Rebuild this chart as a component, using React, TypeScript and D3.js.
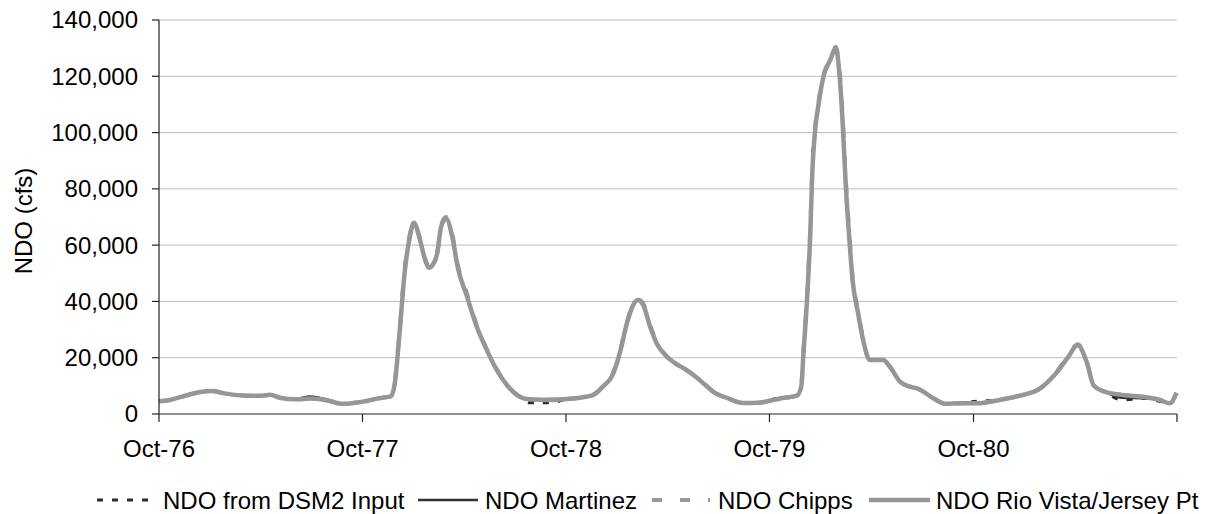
import React from 'react';
import * as d3 from 'd3';

// Dates of the sampled points (shared by all series)
const dates = [
  "1976-10-01","1976-10-21","1976-11-17","1976-12-14","1977-01-04","1977-01-22","1977-02-14","1977-03-13",
  "1977-04-04","1977-04-18","1977-05-06","1977-06-02","1977-06-29","1977-07-26","1977-08-27","1977-09-18",
  "1977-10-02","1977-10-24","1977-11-10","1977-11-21","1977-11-28","1977-12-07","1977-12-16","1977-12-25",
  "1978-01-01","1978-01-12","1978-01-21","1978-01-28","1978-02-04","1978-02-12","1978-02-19","1978-02-28",
  "1978-03-11","1978-03-21","1978-04-06","1978-04-24","1978-05-12","1978-05-30","1978-06-17","1978-07-05",
  "1978-07-28","1978-09-02","1978-10-03","1978-10-26","1978-11-17","1978-12-06","1978-12-24","1979-01-06",
  "1979-01-18","1979-01-29","1979-02-07","1979-02-16","1979-03-01","1979-03-13","1979-03-28","1979-04-15",
  "1979-05-02","1979-05-20","1979-06-07","1979-06-25","1979-07-17","1979-08-15","1979-09-12","1979-10-04",
  "1979-10-20","1979-11-19","1979-11-27","1979-12-01","1979-12-07","1979-12-13","1979-12-17","1979-12-22",
  "1979-12-28","1980-01-06","1980-01-18","1980-01-28","1980-02-03","1980-02-09","1980-02-15","1980-02-21",
  "1980-02-27","1980-03-08","1980-03-17","1980-03-29","1980-04-22","1980-05-04","1980-05-22","1980-06-09",
  "1980-06-23","1980-07-21","1980-08-12","1980-09-07","1980-10-07","1980-11-17","1980-12-23","1981-01-28",
  "1981-02-24","1981-03-19","1981-04-06","1981-04-21","1981-05-05","1981-05-23","1981-06-24","1981-08-05",
  "1981-08-31","1981-09-18","1981-09-30"
];

const ndoRioVista = [
  4500,5000,6500,7800,8200,7500,6800,6500,
  6500,6800,5800,5200,5500,5000,3600,4000,
  4400,5300,5900,6300,11000,30000,51000,63000,
  68000,62000,55000,52000,53000,57000,66500,69500,
  63000,52000,42000,31000,22700,15600,10300,6800,
  5200,5000,5300,5800,6600,9700,14000,22000,
  32000,38500,40500,39000,31000,25000,21000,18000,
  16000,13500,10500,7500,5700,3900,4000,4800,
  5500,6500,9700,21600,39400,63000,86700,101000,
  110000,120000,125800,130000,122000,104500,80700,63000,
  47600,35800,26300,19200,19200,16800,11500,9700,
  9000,5600,3600,3800,3800,5000,6500,9000,
  14000,20000,24500,19000,10000,8000,6800,6000,
  5000,3800,7500
];

const ndoChipps = [
  4500,5000,6500,7800,8200,7500,6800,6500,
  6500,6800,5800,5200,5500,5000,3600,4000,
  4400,5300,5900,6300,11500,31000,52000,64000,
  68000,62500,55500,52500,53000,57500,67000,70000,
  64000,53000,43000,31500,23000,15800,10300,6800,
  5200,5000,5300,5800,6600,9700,14500,22500,
  32500,39000,40800,39500,31500,25500,21000,18000,
  16000,13500,10500,7500,5700,3900,4000,4800,
  5500,6500,10000,22500,41000,65000,88000,102000,
  111000,120500,126000,130500,124000,107000,83000,65000,
  49000,36500,26800,19300,19200,16800,11500,9700,
  9000,5600,3600,3800,3800,5000,6500,9000,
  14200,20500,24800,19500,10300,8000,6800,6000,
  5000,3800,7500
];

const ndoMartinez = [
  4500,5000,6500,7800,8200,7500,6800,6500,
  6500,6800,5800,5300,6200,5300,3600,4000,
  4400,5300,5900,6300,11000,30000,51000,63000,
  68000,62000,55000,52000,53000,57000,66500,69500,
  63000,52000,42000,31000,22700,15600,10300,6800,
  5200,5300,5300,5800,6600,9700,14000,22000,
  32000,38500,40500,39000,31000,25000,21000,18000,
  16000,13500,10500,7500,5700,3900,4000,4800,
  5500,6500,9700,21600,39400,63000,86700,101000,
  110000,120000,125800,130000,122000,104500,80700,63000,
  47600,35800,26300,19200,19200,16800,11500,9700,
  9000,5600,3600,3800,3800,5000,6500,9000,
  14000,20000,24500,19000,10000,8000,5800,5600,
  5000,3800,7500
];

const ndoDsm2Input = [
  4500,5000,6500,7800,8200,7500,6800,6500,
  6500,6800,5800,5200,5500,5000,3600,4000,
  4400,5300,5900,6300,11000,30000,51000,63000,
  68000,62000,55000,52000,53000,57000,66500,69500,
  63000,52000,42000,31000,22700,15600,10300,6800,
  4000,4000,5300,5800,6600,9700,14000,22000,
  32000,38500,40500,39000,31000,25000,21000,18000,
  16000,13500,10500,7500,5700,3900,4000,5300,
  5500,6500,9700,21600,39400,63000,86700,101000,
  110000,120000,125800,130000,122000,104500,80700,63000,
  47600,35800,26300,19200,19200,16800,11500,9700,
  9000,5600,3600,3800,4500,5000,6500,9000,
  14000,20000,24500,19000,10000,8000,5000,5600,
  4500,3800,7500
];

const seriesNames = ["NDO from DSM2 Input", "NDO Martinez", "NDO Chipps", "NDO Rio Vista/Jersey Pt"];
const xTickDates = ["1976-10-01","1977-10-01","1978-10-01","1979-10-01","1980-10-01","1981-10-01"];
const xTickLabels = ["Oct-76","Oct-77","Oct-78","Oct-79","Oct-80",""];
const yTicks = [0,20000,40000,60000,80000,100000,120000,140000];
const yTitle = "NDO (cfs)";

const FONT = '"Liberation Sans", Arial, Helvetica, sans-serif';

export default function App() {
  const W = 1218, H = 514;
  const left = 159, right = 1177, top = 20, bottom = 414;
  const parse = d3.timeParse("%Y-%m-%d");
  const x = d3.scaleTime()
    .domain([parse("1976-10-01") as Date, parse("1981-10-01") as Date])
    .range([left, right]);
  const y = d3.scaleLinear().domain([0, 140000]).range([bottom, top]);
  const fmt = d3.format(",");
  const parsed = dates.map(d => parse(d) as Date);
  const lineGen = d3.line<number>()
    .x((_, i) => x(parsed[i]))
    .y(v => y(v))
    .curve(d3.curveMonotoneX);

  const styles = [
    { stroke: "#2b2b2b", width: 3, dash: "6,9" },
    { stroke: "#333333", width: 2.5, dash: "" },
    { stroke: "#999999", width: 4, dash: "10,18" },
    { stroke: "#969696", width: 4.5, dash: "" },
  ];
  const seriesValues = [ndoDsm2Input, ndoMartinez, ndoChipps, ndoRioVista];

  const legend = [
    { x1: 97, x2: 157, tx: 163 },
    { x1: 418, x2: 478, tx: 485 },
    { x1: 652, x2: 710, tx: 718 },
    { x1: 869, x2: 930, tx: 936 },
  ];

  return (
    <svg width={W} height={H} style={{ position: 'absolute', left: 0, top: 0, background: '#fff' }}
      fontFamily={FONT}>
      <rect x={0} y={0} width={W} height={H} fill="#fff" />
      {yTicks.filter(t => t > 0).map(t => (
        <line key={'g' + t} x1={left} x2={right} y1={y(t)} y2={y(t)} stroke="#bdbdbd" strokeWidth={1} />
      ))}
      <g fill="none" strokeLinejoin="round">
        {seriesValues.map((vals, i) => (
          <path key={'s' + i} d={lineGen(vals) || ''} stroke={styles[i].stroke}
            strokeWidth={styles[i].width} strokeDasharray={styles[i].dash || undefined} />
        ))}
      </g>
      <line x1={left} x2={left} y1={top} y2={bottom} stroke="#222" strokeWidth={1.2} />
      {yTicks.map(t => (
        <g key={'y' + t}>
          <line x1={left - 7} x2={left} y1={y(t)} y2={y(t)} stroke="#222" strokeWidth={1.2} />
          <text x={138} y={y(t)} dy="0.35em" textAnchor="end" fontSize={24} fill="#000">{fmt(t)}</text>
        </g>
      ))}
      <line x1={left} x2={right} y1={bottom} y2={bottom} stroke="#222" strokeWidth={1.2} />
      {xTickDates.map((d, i) => {
        const xx = x(parse(d) as Date);
        return (
          <g key={'x' + d}>
            <line x1={xx} x2={xx} y1={bottom} y2={bottom + 8} stroke="#222" strokeWidth={1.2} />
            {xTickLabels[i] && (
              <text x={xx} y={457} textAnchor="middle" fontSize={24} fill="#000">{xTickLabels[i]}</text>
            )}
          </g>
        );
      })}
      <text transform={`translate(31.5,${(top + bottom) / 2 + 4}) rotate(-90)`} textAnchor="middle"
        fontSize={24} fill="#000">{yTitle}</text>
      {seriesNames.map((name, i) => (
        <g key={'l' + i}>
          <line x1={legend[i].x1} x2={legend[i].x2} y1={500} y2={500} stroke={styles[i].stroke}
            strokeWidth={styles[i].width} strokeDasharray={styles[i].dash || undefined} />
          <text x={legend[i].tx} y={509} fontSize={24} fill="#000">{name}</text>
        </g>
      ))}
    </svg>
  );
}
